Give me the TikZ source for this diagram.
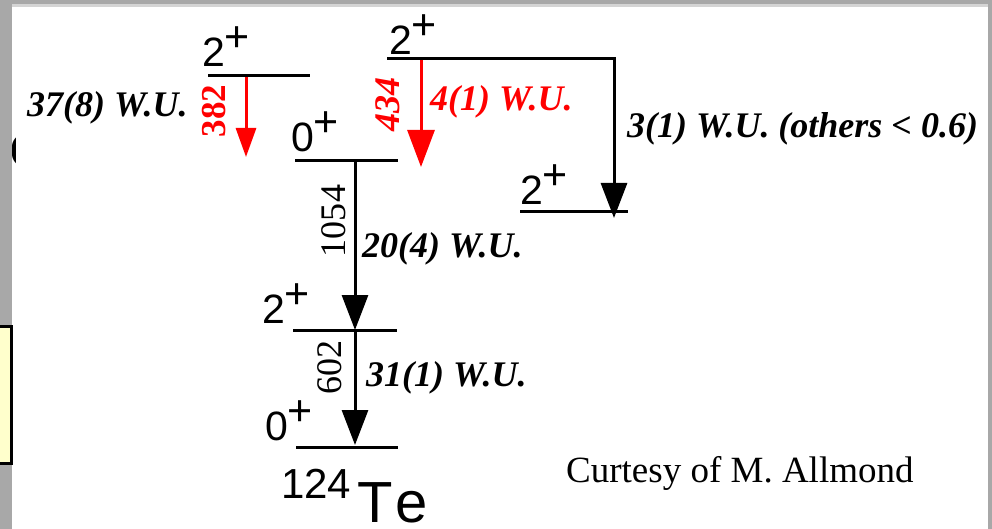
\documentclass[tikz,border=0pt]{standalone}
\usepackage{fontspec}
\setmainfont{Liberation Serif}
\newfontfamily\arialf{Liberation Sans}
\usetikzlibrary{arrows.meta}
\definecolor{edgegray}{HTML}{A8A8A8}
\definecolor{stripgray}{HTML}{D4D4D4}
\definecolor{paleyellow}{HTML}{FFFFCC}
\definecolor{pred}{HTML}{FF0000}
\tikzset{
  levelline/.style={line width=3pt},
  trans/.style={line width=3pt, -{Triangle[length=35pt,width=26pt]}},
  spin/.style={font=\arialf\fontsize{41}{41}\selectfont, anchor=base west, inner sep=0pt},
  wu/.style={font=\bfseries\itshape\fontsize{36}{36}\selectfont, anchor=base west, inner sep=0pt},
  energy/.style={font=\fontsize{36}{36}\selectfont, rotate=90, inner sep=0pt},
}
\newcommand{\spinlab}[2]{#1\kern-1pt\raisebox{15pt}{\fontsize{43}{43}\selectfont #2}}
\begin{document}
\begin{tikzpicture}[x=1pt,y=-1pt]
  \useasboundingbox (0,0) rectangle (992,529);
  \fill[white] (0,0) rectangle (992,529);
  % partial glyph at left edge, only its bulge is visible
  \begin{scope}
    \clip (12,130) rectangle (15.5,170);
    \node[anchor=base west, inner sep=0pt, font=\bfseries\fontsize{36}{36}\selectfont] (paren) at (10,160) {(};
  \end{scope}
  % window frame
  \fill[edgegray] (0,0) rectangle (992,4);
  \fill[stripgray] (12,4) rectangle (988,7);
  \fill[edgegray] (0,0) rectangle (12,529);
  \fill[edgegray] (988,0) rectangle (992,529);
  % partial yellow box at the left
  \draw[line width=3pt, fill=paleyellow] (-5,326.5) rectangle (11.5,463.5);

  % levels
  \coordinate (l1a) at (208,76);  \coordinate (l1b) at (310,76);
  \coordinate (l2a) at (295,161); \coordinate (l2b) at (398,161);
  \coordinate (l3a) at (387,59);  \coordinate (l3b) at (614,59);
  \coordinate (l4a) at (520,212); \coordinate (l4b) at (628,212);
  \coordinate (l5a) at (293,330); \coordinate (l5b) at (397,330);
  \coordinate (l6a) at (296,447); \coordinate (l6b) at (398,447);
  \draw[levelline] (l1a) -- (l1b);
  \draw[levelline] (l2a) -- (l2b);
  \draw[levelline] (l3a) -- (l3b);
  \draw[levelline] (l4a) -- (l4b);
  \draw[levelline] (l5a) -- (l5b);
  \draw[levelline] (l6a) -- (l6b);

  % spin labels
  \node[spin] (s1) at (202,67)  {\spinlab{2}{+}};
  \node[spin] (s2) at (291,152) {\spinlab{0}{+}};
  \node[spin] (s3) at (389,55)  {\spinlab{2}{+}};
  \node[spin] (s4) at (520,205) {\spinlab{2}{+}};
  \node[spin] (s5) at (262,323) {\spinlab{2}{+}};
  \node[spin] (s6) at (265,440) {\spinlab{0}{+}};

  % transitions
  \coordinate (t1s) at (246,77);  \coordinate (t1e) at (246,157);
  \coordinate (t2s) at (421,60);  \coordinate (t2e) at (421,167);
  \coordinate (t3s) at (614,57.5);  \coordinate (t3e) at (614,218);
  \coordinate (t4s) at (355,161); \coordinate (t4e) at (355,330);
  \coordinate (t5s) at (355,330); \coordinate (t5e) at (355,445);
  \draw[trans, pred, -{Triangle[length=29pt,width=20pt]}] (t1s) -- (t1e);
  \draw[trans, pred, -{Triangle[length=37pt,width=27pt]}] (t2s) -- (t2e);
  \draw[trans] (t3s) -- (t3e);
  \draw[trans] (t4s) -- (t4e);
  \draw[trans] (t5s) -- (t5e);

  % energies
  \node[energy, pred, font=\bfseries\fontsize{35}{35}\selectfont] (e382) at (214,111) {382};
  \node[energy, pred, font=\bfseries\itshape\fontsize{36}{36}\selectfont] (e434) at (388,105) {434};
  \node[energy] (e1054) at (334,221) {1054};
  \node[energy] (e602) at (330,367) {602};

  % strengths
  \node[wu] (w1) at (27,117) {37(8) W.U.};
  \node[wu, pred] (w2) at (430,111) {4(1) W.U.};
  \node[wu] (w3) at (627,138) {3(1) W.U. (others < 0.6)};
  \node[wu] (w4) at (362,257) {20(4) W.U.};
  \node[wu] (w5) at (366,386) {31(1) W.U.};

  % nucleus
  \node[anchor=base west, inner sep=0pt, font=\arialf\fontsize{42}{42}\selectfont] (mass) at (281,498) {124};
  \node[anchor=base west, inner sep=0pt, font=\arialf\fontsize{58}{58}\selectfont] (elem) at (357,522) {\raisebox{0pt}[\height][0pt]{T\kern3pt e}};

  \node[anchor=base west, inner sep=0pt, font=\fontsize{37}{37}\selectfont] (credit) at (566,482) {Curtesy of M. Allmond};
\end{tikzpicture}
\end{document}
